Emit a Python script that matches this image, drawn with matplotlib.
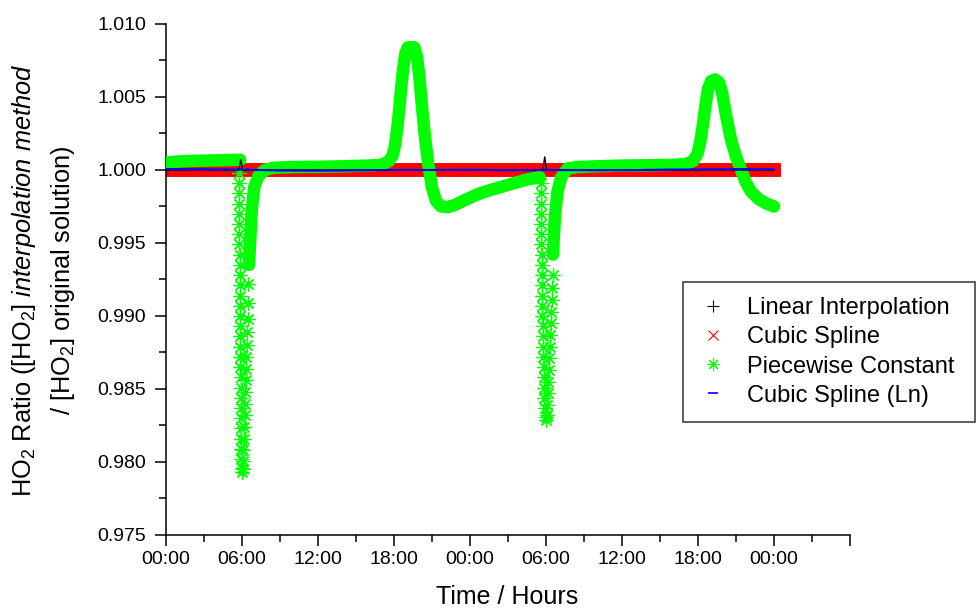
import matplotlib
matplotlib.use('Agg')
import matplotlib.pyplot as plt
from matplotlib.lines import Line2D
from matplotlib.ticker import MultipleLocator, FixedLocator, FixedFormatter, FormatStrFormatter

plt.rcParams['font.family'] = ['Liberation Sans', 'DejaVu Sans']
plt.rcParams['mathtext.fontset'] = 'custom'
plt.rcParams['mathtext.rm'] = 'Liberation Sans'
plt.rcParams['mathtext.it'] = 'Liberation Sans:italic'

# time axis (hours from start of run)
hour_ticks = [0, 6, 12, 18, 24, 30, 36, 42, 48, 54]
hour_labels = ['00:00', '06:00', '12:00', '18:00', '00:00', '06:00', '12:00', '18:00', '00:00', '']

# Linear Interpolation
li_t = [0, 3, 5.75, 5.9, 6.05, 9, 12, 15, 18, 21, 24, 27, 29.75, 29.9, 30.05, 33, 36, 39, 42, 45, 48]
li_v = [1.0, 1.0, 1.0, 1.0007, 1.0, 1.0, 1.0, 1.0, 1.0, 1.0, 1.0, 1.0, 1.0, 1.0009, 1.0, 1.0, 1.0, 1.0, 1.0, 1.0, 1.0]

# Cubic Spline
cs_t = [0, 3, 6, 9, 12, 15, 18, 21, 24, 27, 30, 33, 36, 39, 42, 45, 48]
cs_v = [1.0, 1.0, 1.0, 1.0, 1.0, 1.0, 1.0, 1.0, 1.0, 1.0, 1.0, 1.0, 1.0, 1.0, 1.0, 1.0, 1.0]

# Piecewise Constant - smooth parts
pc1_t = [0, 1, 2, 3, 4, 5, 5.85]
pc1_v = [1.0005, 1.00058, 1.00062, 1.00064, 1.00066, 1.00068, 1.0007]

pc2_t = [6.55, 6.75, 6.95, 7.3, 7.8, 8.5, 10, 12, 14, 16, 17, 17.6, 17.9, 18.1, 18.3, 18.5,
         18.7, 18.9, 19.1, 19.35, 19.6, 19.8, 20.0, 20.2, 20.45, 20.7, 21.0, 21.3, 21.7, 22.2,
         22.8, 23.5, 24.5, 25.5, 26.5, 27.5, 28.5, 29.5]
pc2_v = [0.9935, 0.9970, 0.9988, 0.9996, 1.0000, 1.00015, 1.0002, 1.00022, 1.00025, 1.0003,
         1.00035, 1.0006, 1.0010, 1.0018, 1.0032, 1.0050, 1.0068, 1.0080, 1.0084, 1.0084,
         1.0084, 1.0078, 1.0064, 1.0044, 1.0022, 1.0004, 0.9988, 0.9979, 0.9975, 0.99745,
         0.9976, 0.9979, 0.9983, 0.9986, 0.99885, 0.9991, 0.99935, 0.9995]

pc3_t = [30.55, 30.7, 30.9, 31.2, 31.7, 32.5, 34, 36, 38, 40, 41, 41.6, 41.95, 42.2, 42.4,
         42.6, 42.8, 43.05, 43.35, 43.65, 43.9, 44.2, 44.6, 45.0, 45.4, 45.8, 46.2, 46.8,
         47.4, 48.0]
pc3_v = [0.9942, 0.9968, 0.9985, 0.9995, 1.0001, 1.0002, 1.00025, 1.0003, 1.00032, 1.00035,
         1.0004, 1.0006, 1.0011, 1.0020, 1.0032, 1.0045, 1.0056, 1.0061, 1.0062, 1.0060,
         1.0053, 1.0038, 1.0021, 1.0009, 1.0000, 0.9991, 0.9985, 0.9980, 0.9977, 0.9975]

# Piecewise Constant - the two sharp drops near 06:00
dip1_t = [5.74, 5.75, 5.76, 5.77, 5.775, 5.78, 5.79, 5.80, 5.805, 5.81, 5.82, 5.825, 5.83,
          5.84, 5.845, 5.85, 5.86, 5.865, 5.87, 5.88, 5.885, 5.89, 5.90, 5.905, 5.91, 5.92,
          5.93, 5.94, 5.95, 5.97, 6.00, 6.04, 6.08, 6.11, 6.14, 6.17, 6.20, 6.23, 6.26, 6.29,
          6.32, 6.35, 6.38, 6.41, 6.44, 6.47, 6.50]
dip1_v = [0.9998, 0.9991, 0.9984, 0.9977, 0.9970, 0.9963, 0.9956, 0.9949, 0.9942, 0.9935,
          0.9928, 0.9921, 0.9914, 0.9907, 0.9900, 0.9893, 0.9886, 0.9879, 0.9872, 0.9865,
          0.9858, 0.9851, 0.9844, 0.9837, 0.9830, 0.9823, 0.9816, 0.9809, 0.9802, 0.9796,
          0.9793, 0.9795, 0.9801, 0.9808, 0.9816, 0.9824, 0.9832, 0.9840, 0.9848, 0.9856,
          0.9864, 0.9872, 0.9880, 0.9889, 0.9898, 0.9909, 0.9922]

dip2_t = [29.58, 29.59, 29.60, 29.61, 29.62, 29.63, 29.64, 29.65, 29.66, 29.67, 29.68, 29.69,
          29.70, 29.72, 29.74, 29.76, 29.78, 29.80, 29.82, 29.84, 29.86, 29.88, 29.92, 29.96,
          30.00, 30.04, 30.08, 30.12, 30.16, 30.20, 30.24, 30.28, 30.32, 30.36, 30.40, 30.44,
          30.48, 30.52]
dip2_v = [0.9991, 0.9984, 0.9977, 0.9970, 0.9963, 0.9956, 0.9949, 0.9942, 0.9935, 0.9928,
          0.9921, 0.9914, 0.9907, 0.9900, 0.9893, 0.9886, 0.9879, 0.9872, 0.9865, 0.9858,
          0.9851, 0.9844, 0.9837, 0.9831, 0.9829, 0.9832, 0.9839, 0.9847, 0.9855, 0.9863,
          0.9871, 0.9879, 0.9887, 0.9895, 0.9903, 0.9911, 0.9919, 0.9928]

# Cubic Spline (Ln)
ln_t = [0, 3, 6, 9, 12, 15, 18, 21, 24, 27, 30, 33, 36, 39, 42, 45, 48]
ln_v = [1.00006, 1.00005, 1.00003, 0.99996, 0.99995, 0.99997, 1.0, 1.0, 1.00002, 0.99998,
        1.0, 0.99998, 0.99998, 1.00002, 1.00004, 1.00006, 1.00005]

fig = plt.figure(figsize=(9.76, 6.08), dpi=100)
ax = fig.add_axes([0.1701, 0.1201, 0.7008, 0.8405])

green = '#00ff00'
ax.plot(cs_t, cs_v, color='red', lw=10, solid_capstyle='projecting', zorder=2)
for t, v in [(pc1_t, pc1_v), (pc2_t, pc2_v), (pc3_t, pc3_v)]:
    ax.plot(t, v, color=green, lw=9, solid_capstyle='round', solid_joinstyle='round', zorder=3)
for t, v in [(dip1_t, dip1_v), (dip2_t, dip2_v)]:
    ax.plot(t, v, ls='none', marker=(8, 2, 0), ms=10, mew=0.9, color=green, zorder=3)
ax.plot(li_t, li_v, color='black', lw=1.0, zorder=4)
ax.plot(ln_t, ln_v, color='blue', lw=1.5, zorder=5)

ax.set_xlim(0, 54)
ax.set_ylim(0.975, 1.010)

ax.spines['top'].set_visible(False)
ax.spines['right'].set_visible(False)
for s in ['left', 'bottom']:
    ax.spines[s].set_linewidth(1.1)

ax.xaxis.set_major_locator(FixedLocator(hour_ticks))
ax.xaxis.set_major_formatter(FixedFormatter(hour_labels))
ax.xaxis.set_minor_locator(MultipleLocator(3))
ax.yaxis.set_major_locator(MultipleLocator(0.005))
ax.yaxis.set_minor_locator(MultipleLocator(0.0025))
ax.yaxis.set_major_formatter(FormatStrFormatter('%.3f'))
ax.tick_params(which='major', direction='out', length=8, width=1.1, labelsize=14)
ax.tick_params(which='minor', direction='out', length=5, width=1.1)
ax.tick_params(axis='x', which='major', pad=3.5)
ax.tick_params(axis='y', which='major', pad=6.5)

fig.text(507 / 976, 1 - 597 / 608, 'Time / Hours', ha='center', va='center', fontsize=18)
fig.text(24 / 976, 1 - 280 / 608, r'HO$_2$ Ratio ([HO$_2$] $\mathit{interpolation\ method}$',
         rotation=90, ha='center', va='center', fontsize=18.3)
fig.text(63 / 976, 1 - 280 / 608, r'/ [HO$_2$] original solution)',
         rotation=90, ha='center', va='center', fontsize=18.3)

handles = [
    Line2D([], [], ls='none', marker='+', ms=8, mew=0.8, color='black'),
    Line2D([], [], ls='none', marker='x', ms=7, mew=0.8, color='red'),
    Line2D([], [], ls='none', marker=(8, 2, 0), ms=9, mew=0.8, color=green),
    Line2D([], [], ls='none', marker='_', ms=7, mew=1.2, color='blue'),
]
labels = ['Linear Interpolation', 'Cubic Spline', 'Piecewise Constant', 'Cubic Spline (Ln)']
leg = fig.legend(handles, labels, loc='upper left',
                 bbox_to_anchor=(683 / 976, 0, (975 - 683) / 976, 1 - 282 / 608),
                 mode='expand', borderaxespad=0, fontsize=17, frameon=True, fancybox=False,
                 borderpad=0.65, labelspacing=0.3, handlelength=1.25, handletextpad=0.81)
leg.get_frame().set_edgecolor('black')
leg.get_frame().set_linewidth(1.1)

fig.savefig('out.png', dpi=100)
